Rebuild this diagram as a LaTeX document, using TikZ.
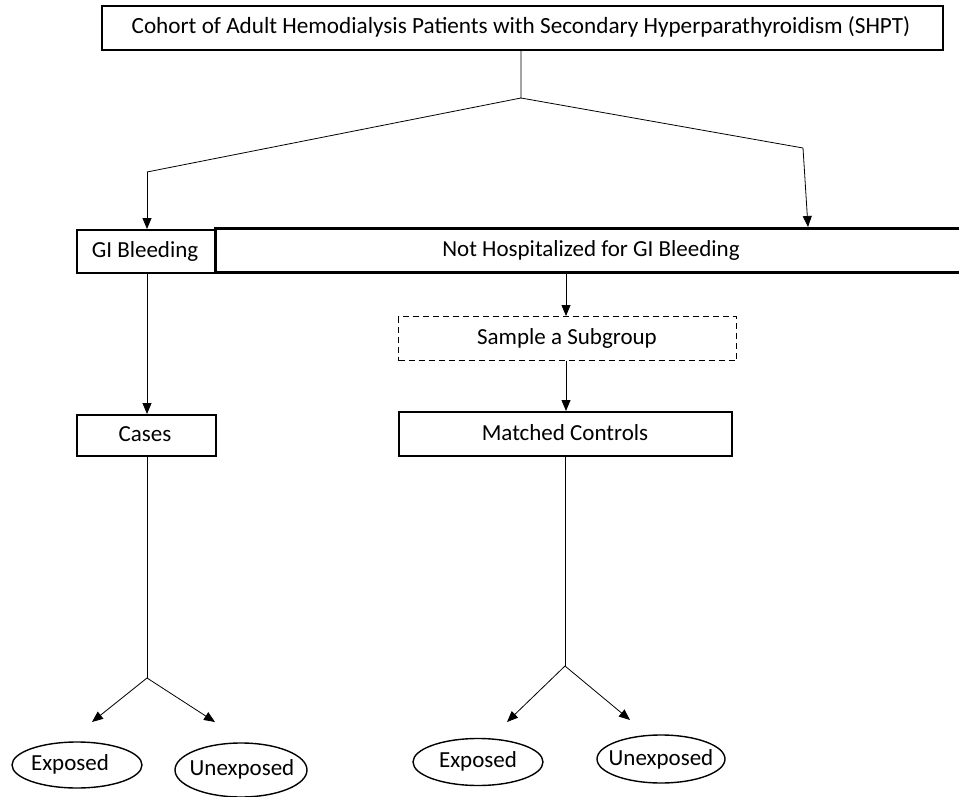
\documentclass[tikz,border=0pt]{standalone}
\usepackage{fontspec}
\setmainfont{Carlito}
\usetikzlibrary{arrows.meta,shapes.geometric}
\begin{document}
\begin{tikzpicture}[x=1pt,y=-1pt,
  box/.style={draw, line width=1.6pt, inner sep=0pt, anchor=north west},
  oval/.style={line width=1.4pt},
  arr/.style={-{Triangle[length=11pt,width=9pt]}, line width=0.8pt},
  ln/.style={line width=0.8pt},
  lbl/.style={font=\fontsize{23}{25}\selectfont}
]
\useasboundingbox (0,0) rectangle (959,797);
\begin{scope}
\clip (0,0) rectangle (959,797);
% top box
\node[box, minimum width=841pt, minimum height=44pt] (top) at (101,5) {};
\node[font=\fontsize{23.2}{25}\selectfont] (toptxt) at (521,27) {Cohort of Adult Hemodialysis Patients with Secondary Hyperparathyroidism (SHPT)};
% GI bleeding box
\node[box, minimum width=139pt, minimum height=43pt] (gib) at (76,229) {};
\node[lbl] (gibt) at (145,251) {GI Bleeding};
% Not hospitalized box (extends past right edge)
\node[box, line width=3pt, minimum width=780pt, minimum height=44pt] (nh) at (214,227) {};
\node[lbl] (nht) at (591,250) {Not Hospitalized for GI Bleeding};
% sample subgroup
\node[box, dashed, dash pattern=on 6pt off 4pt, line width=1.2pt, minimum width=338pt, minimum height=44pt] (samp) at (398,316) {};
\node[lbl] (sampt) at (567,338) {Sample a Subgroup};
% cases
\node[box, minimum width=139pt, minimum height=41pt] (cases) at (76,414) {};
\node[lbl] (casest) at (145,434) {Cases};
% matched controls
\node[box, minimum width=333pt, minimum height=44pt] (mc) at (398,411) {};
\node[lbl] (mct) at (565,433) {Matched Controls};
% ovals
\node[lbl] (e1) at (70,764) {Exposed};
\node[lbl] (u1) at (242,769) {Unexposed};
\node[lbl] (e2) at (478,761) {Exposed};
\node[lbl] (u2) at (661,759) {Unexposed};
\draw[oval] (77,765) ellipse [x radius=65, y radius=23];
\draw[oval] (241,770) ellipse [x radius=66, y radius=27];
\draw[oval] (478,762) ellipse [x radius=65, y radius=23.5];
\draw[oval] (661,759) ellipse [x radius=64, y radius=24];
% coordinates
\coordinate (s0) at (521,98);
\coordinate (sl) at (147,172);
\coordinate (sr) at (803,148);
\coordinate (tl) at (147,229);
\coordinate (tr) at (808,227);
\coordinate (cs) at (147,678);
\coordinate (ms) at (565,666);
\coordinate (a1) at (92,722);
\coordinate (a2) at (215,722);
\coordinate (a3) at (507,722);
\coordinate (a4) at (630,720);
% connectors
\draw[ln] (top.south -| s0) -- (s0) -- (sl);
\draw[arr] (sl) -- (tl);
\draw[ln] (s0) -- (sr);
\draw[arr] (sr) -- (tr);
\draw[arr] (gib.south -| tl) -- (cases.north -| tl);
\draw[arr] (566,271) -- (samp.north -| 566,0);
\draw[arr] (samp.south -| 566,0) -- (mc.north -| 566,0);
\draw[ln] (cases.south -| cs) -- (cs);
\draw[arr] (cs) -- (a1);
\draw[arr] (cs) -- (a2);
\draw[ln] (mc.south -| ms) -- (ms);
\draw[arr] (ms) -- (a3);
\draw[arr] (ms) -- (a4);
\end{scope}
\end{tikzpicture}
\end{document}
